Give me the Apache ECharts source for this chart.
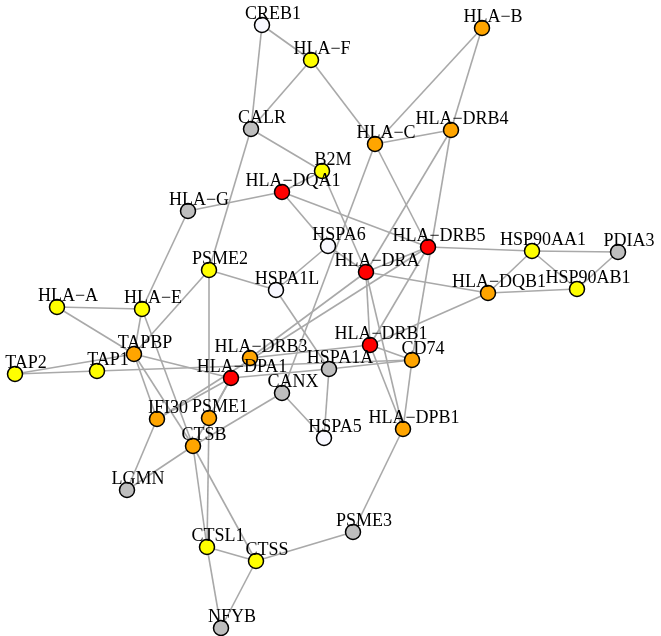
<!DOCTYPE html>
<html>
<head>
<meta charset="utf-8">
<script src="https://cdn.jsdelivr.net/npm/echarts@6/dist/echarts.min.js"></script>
<style>html,body{margin:0;padding:0;background:#fff;}#c{width:661px;height:636px;}</style>
</head>
<body>
<div id="c"></div>
<script>
// Node names, layout coordinates (x right, y down) and colour groups
const nodeNames = ["CREB1","HLA−F","HLA−B","CALR","HLA−C","HLA−DRB4","B2M","HLA−DQA1","HLA−G","HSPA6","HLA−DRB5","HLA−DRA","HSP90AA1","PDIA3","HLA−DQB1","HSP90AB1","PSME2","HSPA1L","HLA−A","HLA−E","TAPBP","TAP2","TAP1","HLA−DRB3","HLA−DPA1","HLA−DRB1","CD74","HSPA1A","CANX","HSPA5","HLA−DPB1","IFI30","PSME1","CTSB","LGMN","CTSL1","CTSS","PSME3","NFYB"];
const nodeX = [262,311,482,251,375,451,322,282,188,328,428,366,532,618,488,577,209,276,57,142,134,15,97,250,231,370,412,329,282,324,403,157,209,193,127,207,256,353,221];
const nodeY = [25,60,28,129,144,130,171,192,211,246,247,272,251,252,293,289,270,290,307,309,354,374,371,358,378,345,360,369,393,438,429,419,418,446,490,547,561,532,628];
const nodeGroup = ["white","yellow","orange","gray","orange","orange","yellow","red","gray","white","red","red","yellow","gray","orange","yellow","yellow","white","yellow","yellow","orange","yellow","yellow","orange","red","red","orange","gray","gray","white","orange","orange","orange","orange","gray","yellow","yellow","gray","gray"];
const edgeFrom = ["CREB1","CREB1","HLA−F","HLA−F","HLA−B","HLA−B","HLA−C","CALR","CALR","B2M","B2M","HLA−DQA1","HLA−DQA1","HLA−DQA1","HLA−G","HLA−C","HLA−C","HLA−DRB4","HLA−DRB4","HSPA6","HSPA6","PSME2","PSME2","PSME2","PSME1","HSPA1L","HLA−DRB5","HLA−DRB5","HLA−DRB5","HLA−DRB5","HSP90AA1","HSP90AA1","HSP90AA1","PDIA3","HLA−DQB1","HLA−DRA","HLA−DQB1","HLA−DRA","HLA−DRA","HLA−DRA","HLA−DRB1","HLA−DRB1","CD74","HLA−DRB1","HSPA1A","TAP1","HSPA1A","CANX","CANX","HLA−A","HLA−A","HLA−E","HLA−E","TAP2","TAP2","TAPBP","TAPBP","TAPBP","HLA−DPA1","HLA−DPA1","HSPA1A","IFI30","CTSB","CTSB","CTSB","CTSL1","CTSL1","CTSS","CTSS","PSME3","HLA−DPA1"];
const edgeTo = ["HLA−F","CALR","CALR","HLA−C","HLA−C","HLA−DRB4","HLA−DRB4","B2M","PSME2","HLA−DQA1","HLA−DRA","HLA−G","HSPA6","HLA−DRB5","HLA−E","HLA−DRB5","CANX","HLA−DRA","CD74","HSPA1L","HLA−DRA","HSPA1L","TAPBP","PSME1","CTSL1","HSPA1A","HSP90AA1","HLA−DRA","HLA−DRB1","IFI30","PDIA3","HSP90AB1","HLA−DQB1","HSP90AB1","HSP90AB1","HLA−DQB1","HLA−DRB1","HLA−DRB1","HLA−DPB1","HLA−DRB3","CD74","HLA−DPB1","HLA−DPB1","HLA−DRB3","CD74","CD74","HSPA5","HSPA5","CTSB","HLA−E","TAPBP","TAPBP","CTSB","TAP1","TAPBP","HLA−DPA1","IFI30","CTSB","PSME1","CTSB","HLA−DPA1","LGMN","LGMN","CTSL1","CTSS","CTSS","NFYB","NFYB","PSME3","HLA−DPB1","IFI30"];

const groupColor = {red:"#FF0000", orange:"#FFA500", yellow:"#FFFF00", gray:"#BEBEBE", white:"#F8F8FF"};

const nodes = nodeNames.map((n,i)=>({
  name:n, x:nodeX[i], y:nodeY[i],
  itemStyle:{color:groupColor[nodeGroup[i]]}
}));
const links = edgeFrom.map((s,i)=>({source:s, target:edgeTo[i]}));

const chart = echarts.init(document.getElementById('c'), null, {renderer:'canvas'});
chart.setOption({
  backgroundColor:'#fff',
  animation:false,
  series:[{
    type:'graph',
    layout:'none',
    left:15, top:25, width:603, height:603,
    roam:false,
    symbol:'circle',
    symbolSize:15,
    data:nodes,
    links:links,
    itemStyle:{borderColor:'#000', borderWidth:1.5},
    lineStyle:{color:'#A9A9A9', width:1.6, opacity:1, curveness:0},
    label:{
      show:true, position:'inside', offset:[11,-11],
      fontFamily:'Liberation Serif', fontSize:18, color:'#000',
      align:'center', verticalAlign:'middle'
    },
    emphasis:{disabled:true}
  }]
});
</script>
</body>
</html>
